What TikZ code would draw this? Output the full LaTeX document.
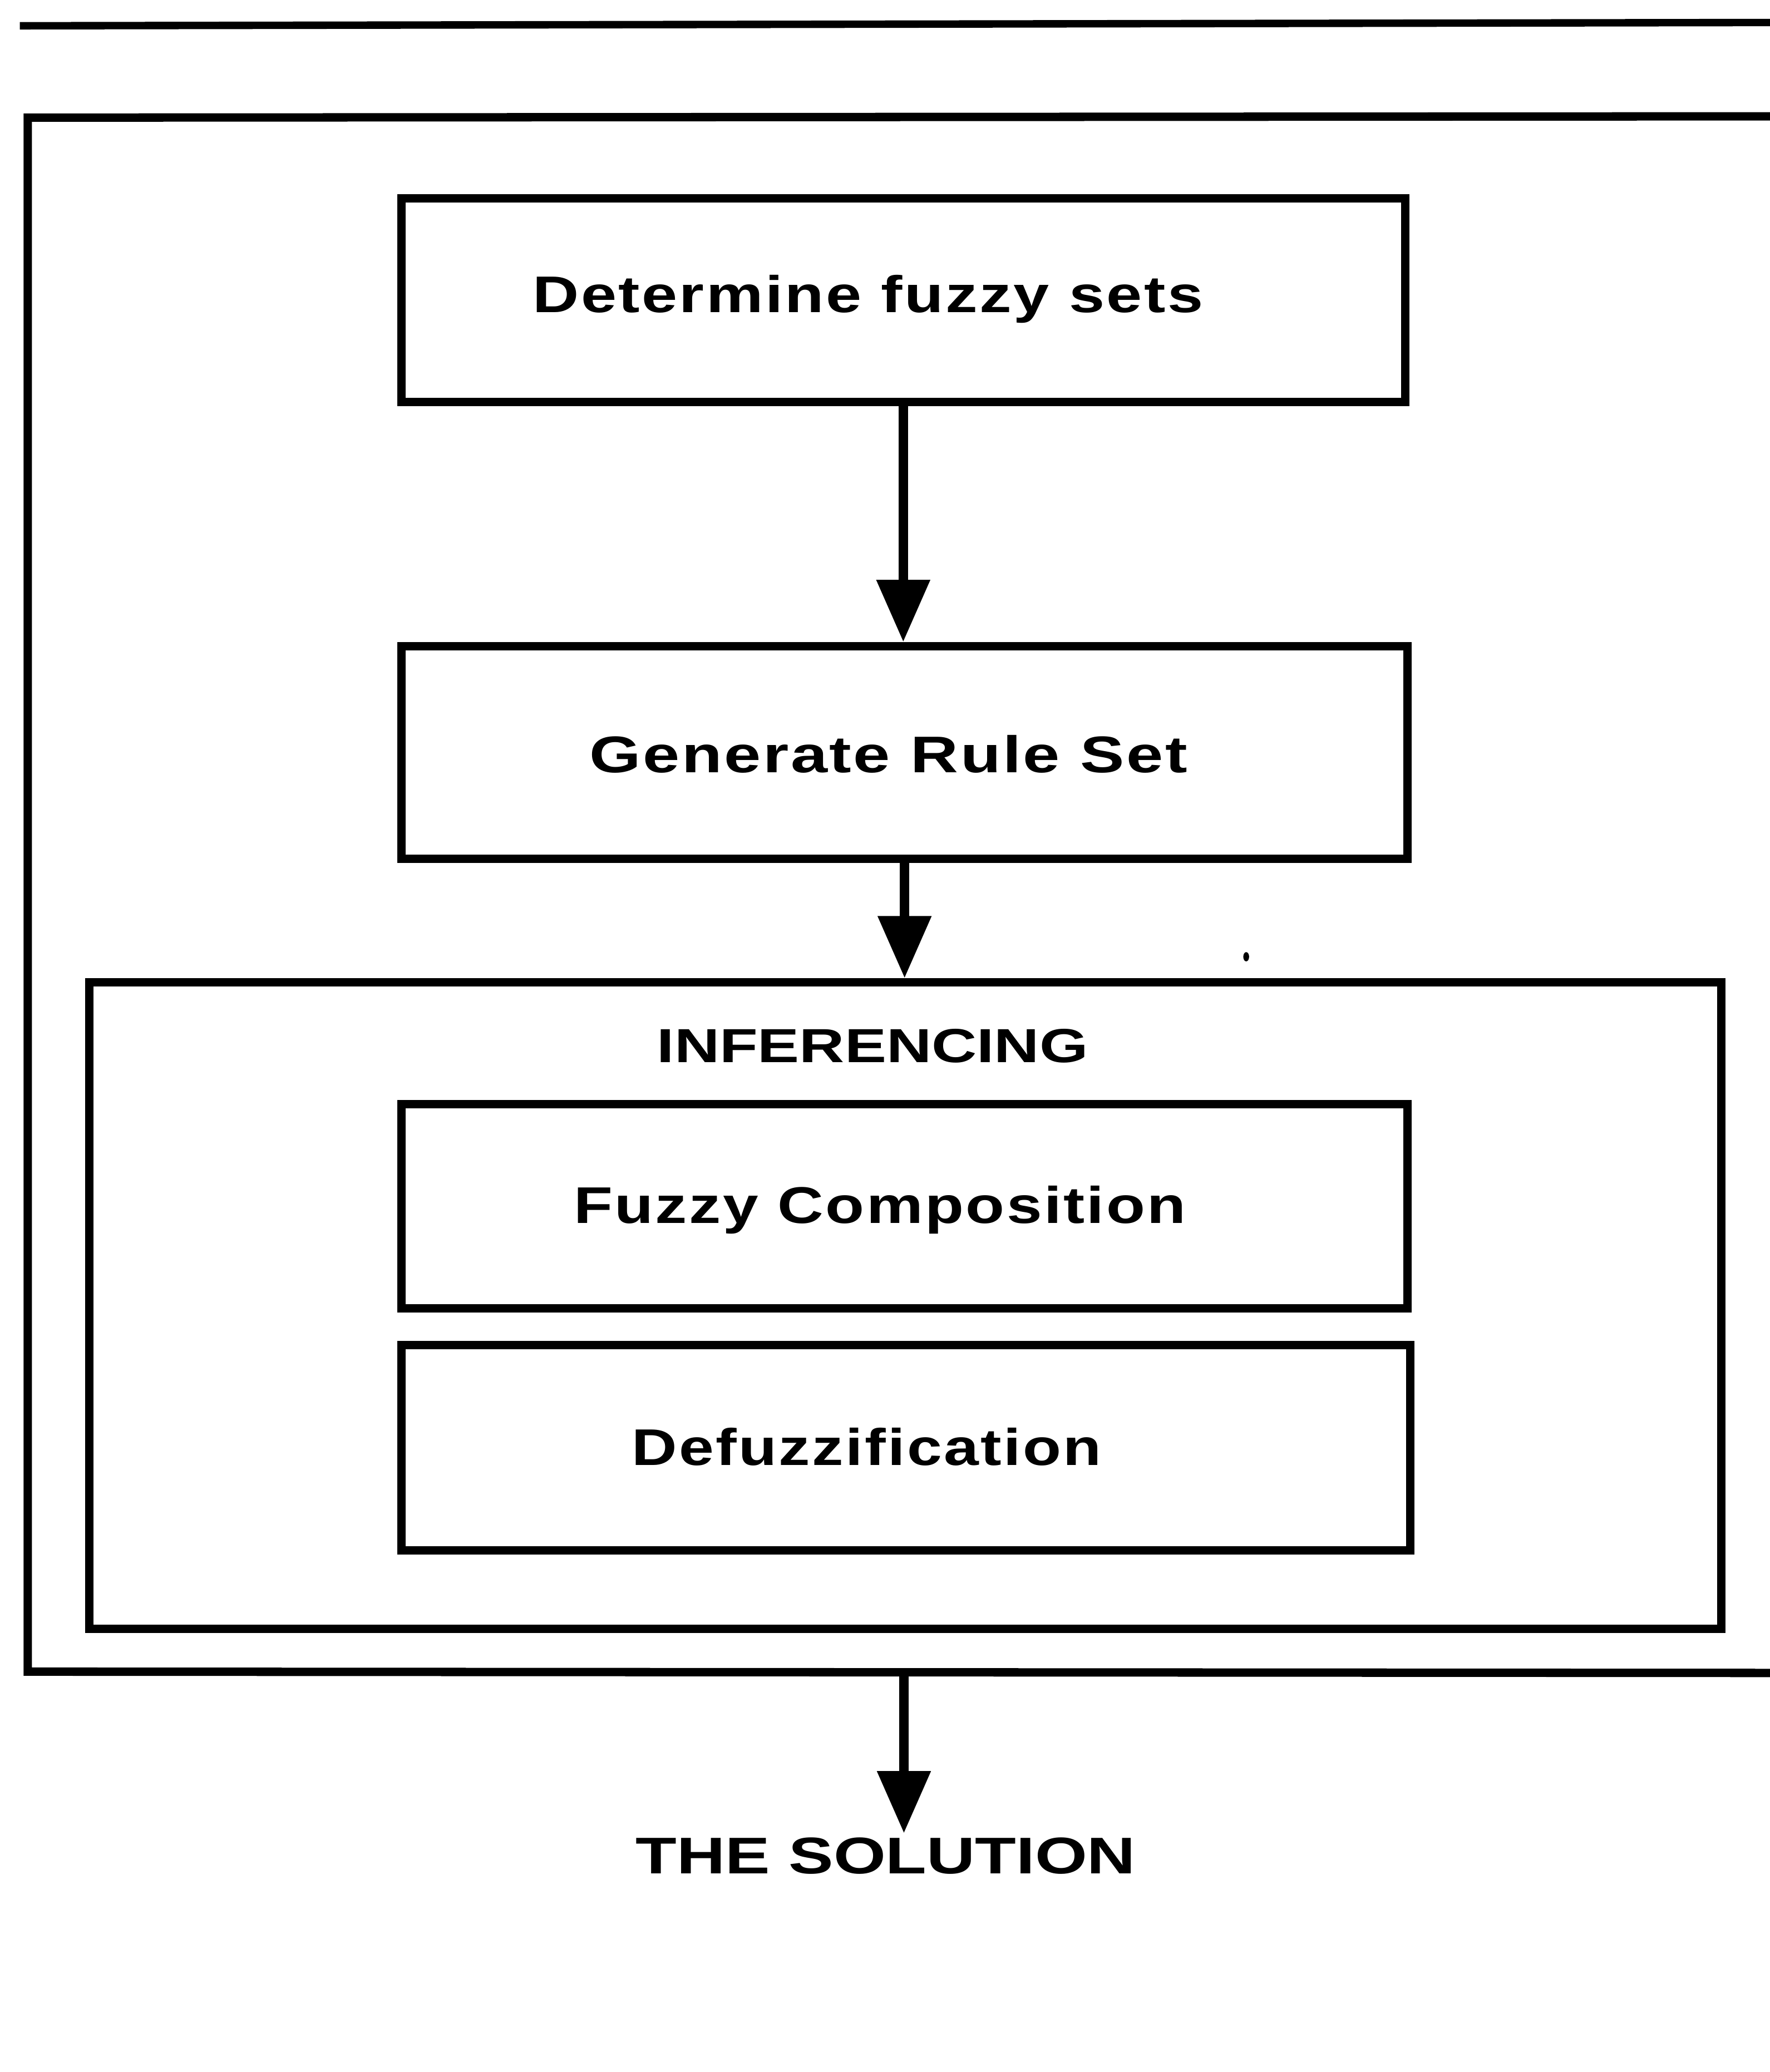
\documentclass[tikz,border=0pt]{standalone}
\usepackage{fontspec}
\setmainfont{Liberation Sans}
\usepackage{graphicx}
\usetikzlibrary{arrows.meta}
\newfontfamily\lblfont[LetterSpace=3]{Liberation Sans}
\newfontfamily\capfont{Liberation Sans}
\newcommand\fitw[2]{\resizebox{#1}{\height}{#2}}
\begin{document}
\begin{tikzpicture}[x=0.01cm,y=-0.01cm,line width=1.8pt,line join=miter,
  box/.style={draw,line width=1.8pt,inner sep=0pt},
  lbl/.style={inner sep=0pt,anchor=base west,font=\lblfont\bfseries\fontsize{11.1}{13}\selectfont},
  caplbl/.style={inner sep=0pt,anchor=base west,font=\capfont\bfseries\fontsize{11.1}{13}\selectfont},
  arr/.style={line width=2pt,-{Triangle[width=0.39cm,length=0.47cm]}}]
\useasboundingbox (0,0) rectangle (1339,1568);
\fill[white] (0,0) rectangle (1339,1568);
% top rule
\coordinate (tl-l) at (15,19.5);
\coordinate (tl-r) at (1345,17);
\draw[line width=1.6pt] (tl-l) -- (tl-r);
% outer frame (open to the right, beyond the picture edge)
\coordinate (ot-r) at (1345,88);
\coordinate (ot-l) at (21,89);
\coordinate (ob-l) at (21,1265);
\coordinate (ob-r) at (1345,1266);
\draw (ot-r) -- (ot-l) -- (ob-l) -- (ob-r);
% boxes
\node[box,minimum width=7.59cm,minimum height=1.54cm] (b1) at (683.5,227) {};
\node[box,minimum width=7.61cm,minimum height=1.61cm] (b2) at (684.5,569.5) {};
\node[box,minimum width=12.34cm,minimum height=4.89cm] (inf) at (685,988) {};
\node[box,minimum width=7.61cm,minimum height=1.544cm] (fc) at (684.5,912.8) {};
\node[box,minimum width=7.63cm,minimum height=1.55cm] (df) at (685.5,1095.5) {};
% labels
\node[lbl] (t1) at (400,236.5) {\fitw{5.07cm}{Determine fuzzy sets}};
\node[lbl] (t2) at (443,584.7) {\fitw{4.52cm}{Generate Rule Set}};
\node[caplbl,font=\capfont\bfseries\fontsize{10.3}{12}\selectfont] (t3) at (494,804) {\fitw{3.26cm}{INFERENCING}};
\node[lbl] (t4) at (431,925.7) {\fitw{4.63cm}{Fuzzy Composition}};
\node[lbl] (t5) at (475,1109) {\fitw{3.55cm}{Defuzzification}};
\node[caplbl] (sol) at (478,1417.7) {\fitw{3.78cm}{THE SOLUTION}};
% connectors
\draw[arr] (b1.south) -- (b1.south |- b2.north);
\draw[arr] (b2.south) -- (b2.south |- inf.north);
\coordinate (ob-m) at (684,1265);
\draw[arr] (ob-m) -- (ob-m |- sol.north);
% speck
\fill (943,724) ellipse [x radius=0.022cm, y radius=0.035cm];
\end{tikzpicture}
\end{document}
